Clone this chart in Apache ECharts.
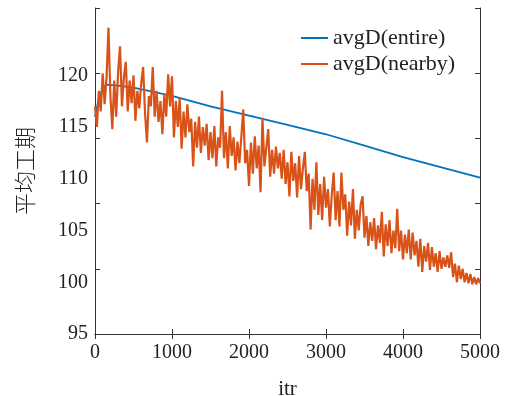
<!DOCTYPE html>
<html>
<head>
<meta charset="utf-8">
<script src="https://cdn.jsdelivr.net/npm/echarts@6/dist/echarts.min.js"></script>
<style>html,body{margin:0;padding:0;background:#fff;}#c{width:511px;height:396px;}</style>
</head>
<body>
<div id="c"></div>
<script>
// x-axis ticks
const xTicks = [0, 1000, 2000, 3000, 4000, 5000];
// y-axis tick labels
const yLabels = [95, 100, 105, 110, 115, 120];
// series names
const seriesNames = ['avgD(entire)', 'avgD(nearby)'];
// avgD(entire): iteration and value
const blueX = [0, 50, 100, 150, 300, 500, 1000, 1500, 2000, 2500, 3000, 3500, 4000, 4500, 5000];
const blueY = [116.0, 117.8, 118.7, 119.1, 119.0, 118.8, 118.0, 117.0, 116.1, 115.2, 114.3, 113.2, 112.1, 111.1, 110.1];
// avgD(nearby): one value every 25 iterations
const redStep = 25;
const redY = [
117.0,115.0,118.5,116.5,120.2,117.2,119.8,124.6,118.0,114.8,
119.5,116.0,120.3,122.8,117.0,119.8,121.3,116.5,119.5,117.3,
120.0,115.6,118.5,116.8,119.2,120.8,116.3,113.5,118.0,117.0,
120.8,116.0,118.5,115.5,117.5,114.3,118.2,116.0,120.1,117.0,
119.9,114.0,117.5,115.0,117.8,112.9,116.5,114.0,117.2,114.5,
115.8,111.2,115.5,113.0,116.0,112.5,115.0,113.2,115.3,111.8,
114.5,112.0,115.1,111.2,114.0,113.0,118.5,112.0,114.5,111.0,
115.1,112.2,114.0,110.8,113.6,111.5,114.0,116.7,111.5,112.8,
109.3,113.5,110.5,114.1,111.0,113.2,108.7,115.9,111.2,113.0,
114.8,110.2,112.8,110.5,113.1,111.0,112.5,110.0,112.8,109.5,
111.6,108.3,112.6,109.8,111.5,108.2,112.2,109.0,111.0,112.6,
108.8,110.5,105.1,110.0,107.0,111.6,106.5,109.5,106.0,110.2,
107.2,109.0,105.4,108.5,110.6,106.0,108.8,105.4,110.6,107.0,
108.5,104.5,107.8,105.5,109.0,104.2,107.0,105.0,107.5,108.3,
104.3,106.4,103.5,105.8,104.0,106.2,103.2,105.5,103.8,106.8,
102.5,105.6,103.5,106.0,102.8,105.0,103.3,107.1,103.0,105.0,
102.2,104.6,102.8,105.1,102.2,104.8,102.6,104.0,101.5,104.2,
101.0,103.5,102.0,103.8,101.2,103.4,101.5,102.8,101.0,103.0,
101.3,102.4,101.5,102.6,101.4,102.9,100.5,101.8,100.0,101.6,
100.3,101.3,100.0,100.9,99.9,100.8,99.8,100.5,99.8,100.4,
99.9
];

const blueData = blueX.map((x, i) => [x, blueY[i]]);
const redData = redY.map((v, i) => [i * redStep, v]);

const serif = 'Liberation Serif, Times New Roman, serif';
const axisColor = '#333';

const chart = echarts.init(document.getElementById('c'), null, {renderer: 'canvas'});
chart.setOption({
  animation: false,
  backgroundColor: '#fff',
  grid: {left: 95, right: 31, top: 8, bottom: 62, containLabel: false, outerBoundsMode: 'none'},
  legend: {
    orient: 'vertical',
    left: 296,
    top: 22,
    itemWidth: 27,
    itemHeight: 2,
    itemGap: 4,
    icon: 'rect',
    data: seriesNames,
    textStyle: {fontFamily: serif, fontSize: 22, color: '#222', lineHeight: 22}
  },
  xAxis: [
    {
      type: 'value', position: 'bottom', min: 0, max: 5000, interval: 1000,
      axisLine: {show: true, lineStyle: {color: axisColor, width: 1}},
      axisTick: {show: true, inside: true, length: 5, lineStyle: {color: axisColor}},
      axisLabel: {fontFamily: serif, fontSize: 20, color: '#222', margin: 9,
        formatter: v => xTicks.indexOf(v) >= 0 ? String(v) : ''},
      splitLine: {show: false},
      name: 'itr', nameLocation: 'middle', nameGap: 45,
      nameTextStyle: {fontFamily: serif, fontSize: 21, color: '#222'}
    },
    {
      type: 'value', position: 'top', min: 0, max: 5000, interval: 1000,
      axisLine: {show: true, lineStyle: {color: axisColor, width: 1}},
      axisTick: {show: true, inside: true, length: 5, lineStyle: {color: axisColor}},
      axisLabel: {show: false}, splitLine: {show: false}
    }
  ],
  yAxis: [
    {
      type: 'value', position: 'left', min: 95, max: 126.5, interval: 5,
      axisLine: {show: true, lineStyle: {color: axisColor, width: 1}},
      axisTick: {show: false},
      axisLabel: {fontFamily: serif, fontSize: 20, color: '#222', margin: 7,
        formatter: v => yLabels.indexOf(v) >= 0 ? String(v) : ''},
      splitLine: {show: false},
      name: '平均工期', nameLocation: 'middle', nameGap: 59, nameRotate: 90,
      nameTextStyle: {fontFamily: 'Noto Sans CJK SC', fontSize: 22, color: '#222', fontWeight: 300}
    },
    {
      type: 'value', position: 'left', min: 0, max: 5, interval: 1,
      axisLine: {show: false},
      axisTick: {show: true, inside: true, length: 5, lineStyle: {color: axisColor}},
      axisLabel: {show: false}, splitLine: {show: false}
    },
    {
      type: 'value', position: 'right', min: 0, max: 5, interval: 1,
      axisLine: {show: true, lineStyle: {color: axisColor, width: 1}},
      axisTick: {show: true, inside: true, length: 5, lineStyle: {color: axisColor}},
      axisLabel: {show: false}, splitLine: {show: false}
    }
  ],
  series: [
    {
      name: seriesNames[0], type: 'line', xAxisIndex: 0, yAxisIndex: 0,
      data: blueData, showSymbol: false, symbol: 'none',
      lineStyle: {color: '#0072BD', width: 1.8}, itemStyle: {color: '#0072BD'}
    },
    {
      name: seriesNames[1], type: 'line', xAxisIndex: 0, yAxisIndex: 0,
      data: redData, showSymbol: false, symbol: 'none',
      lineStyle: {color: '#D95319', width: 2.2}, itemStyle: {color: '#D95319'}
    }
  ]
});
</script>
</body>
</html>
